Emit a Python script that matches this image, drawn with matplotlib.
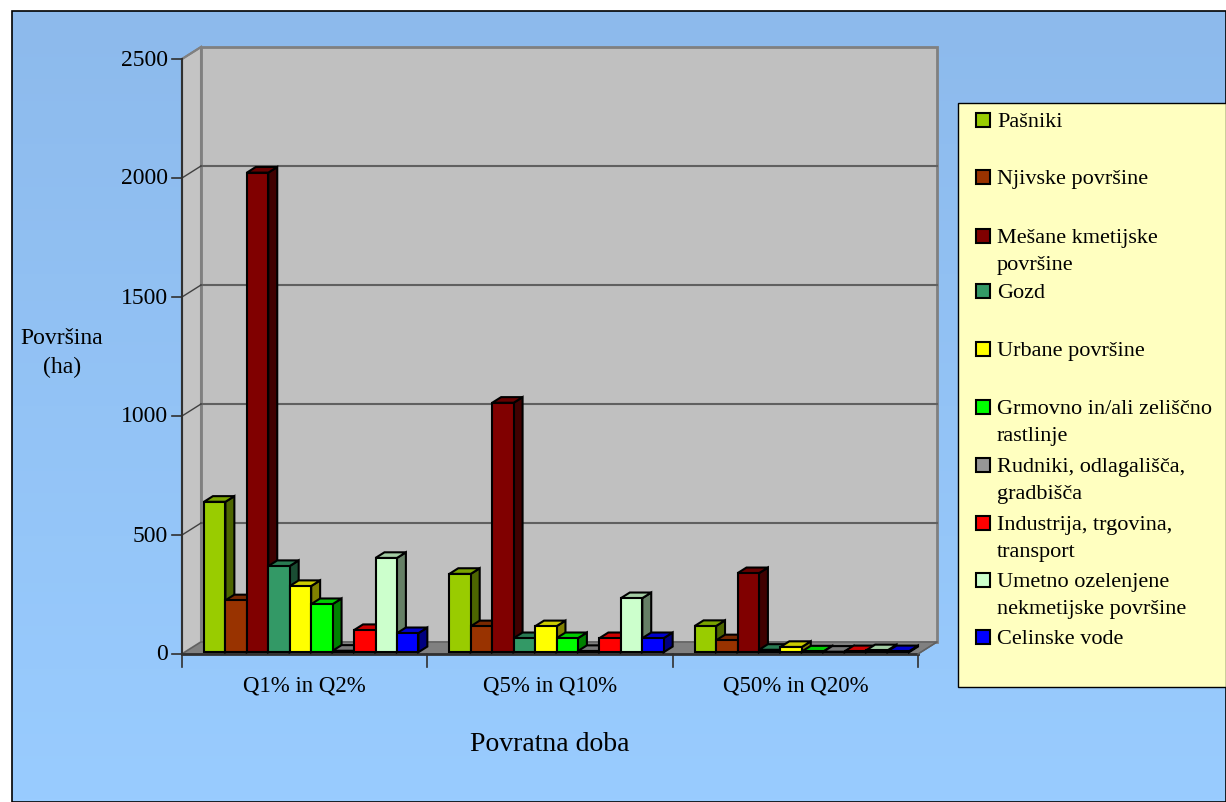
import numpy as np
import matplotlib
matplotlib.use('Agg')
import matplotlib.pyplot as plt
from matplotlib.patches import Polygon, Rectangle
from matplotlib import colors as mcolors

plt.rcParams['font.family'] = ['Liberation Serif', 'DejaVu Serif']

# podatki
kategorije = ['Q1% in Q2%', 'Q5% in Q10%', 'Q50% in Q20%']
razredi = ['Pašniki', 'Njivske površine', 'Mešane kmetijske\npovršine', 'Gozd',
           'Urbane površine', 'Grmovno in/ali zeliščno\nrastlinje',
           'Rudniki, odlagališča,\ngradbišča', 'Industrija, trgovina,\ntransport',
           'Umetno ozelenjene\nnekmetijske površine', 'Celinske vode']
barve = ['#99CC00', '#993300', '#800000', '#339966', '#FFFF00',
         '#00FF00', '#969696', '#FF0000', '#CCFFCC', '#0000FF']
q1_q2 = [632, 218, 2015, 362, 278, 202, 6, 93, 396, 80]
q5_q10 = [329, 109, 1048, 59, 109, 59, 5, 59, 227, 59]
q50_q20 = [110, 50, 332, 10, 22, 3, 2, 4, 8, 4]
serije = [q1_q2, q5_q10, q50_q20]
yticks = [0, 500, 1000, 1500, 2000, 2500]

W, H = 1226, 803
fig = plt.figure(figsize=(W / 100, H / 100), dpi=100)

# ozadje (pikselske koordinate)
bg = fig.add_axes([0, 0, 1, 1])
bg.set_xlim(0, W)
bg.set_ylim(H, 0)
bg.axis('off')
top_c = np.array(mcolors.to_rgb('#8DBAEC'))
bot_c = np.array(mcolors.to_rgb('#99CCFF'))
t = np.linspace(0, 1, 256)[:, None, None]
grad = top_c * (1 - t) + bot_c * t
grad = np.repeat(grad, 2, axis=1)
bg.imshow(grad, extent=(12, W, H, 12), aspect='auto', zorder=0)
bg.add_patch(Rectangle((12, 12), W - 12, H - 12, fill=False, ec='black', lw=1.2, zorder=1))

# legenda
bg.add_patch(Rectangle((958, 104), 268, 584, fc='#FFFFC0', ec='black', lw=1, zorder=2))
leg_y = [121, 178, 237, 292, 350, 408, 466, 524, 581, 638]
for lab, col, yc in zip(razredi, barve, leg_y):
    bg.add_patch(Rectangle((976, yc - 7), 14, 14, fc=col, ec='black', lw=1.5, zorder=3))
    bg.text(997, yc - 8, lab, ha='left', va='top', fontsize=16, linespacing=1.55, zorder=3)

bg.text(62, 353, 'Površina\n(ha)', ha='center', va='center', fontsize=17, linespacing=1.45)
bg.text(550, 745, 'Povratna doba', ha='center', va='center', fontsize=20)

# glavni graf
ax = fig.add_axes([182 / W, (H - 655) / H, (918 - 182) / W, (655 - 60) / H])
ax.set_xlim(0, 3)
ax.set_ylim(0, 2500)
ax.axis('off')
ux = 3 / 736
uy = 2500 / 595
dxw = 19 * ux
dyw = 12 * uy

ax.add_patch(Polygon([(dxw, dyw), (3 + dxw, dyw), (3 + dxw, 2500 + dyw), (dxw, 2500 + dyw)],
                     closed=True, fc='#C0C0C0', ec='#808080', lw=2, zorder=1, clip_on=False))
ax.add_patch(Polygon([(0, 0), (dxw, dyw), (dxw, 2500 + dyw), (0, 2500)],
                     closed=True, fc='#C4C4C4', ec='#808080', lw=1.5, zorder=1, clip_on=False))
ax.add_patch(Polygon([(0, 0), (3, 0), (3 + dxw, dyw), (dxw, dyw)],
                     closed=True, fc='#808080', ec='#606060', lw=1, zorder=1, clip_on=False))

for v in yticks[1:-1]:
    ax.plot([dxw, 3 + dxw], [v + dyw, v + dyw], color='#606060', lw=1.5, zorder=2, clip_on=False)
    ax.plot([0, dxw], [v, v + dyw], color='#404040', lw=1, zorder=2, clip_on=False)
ax.plot([0, dxw], [2500, 2500 + dyw], color='#808080', lw=1.5, zorder=2, clip_on=False)

ax.plot([0, 0], [0, 2500], color='#303030', lw=1.5, zorder=4, clip_on=False)
ax.plot([0, 3], [0, 0], color='#303030', lw=2, zorder=4, clip_on=False)
ax.plot([3, 3 + dxw], [0, dyw], color='#606060', lw=1, zorder=4, clip_on=False)
for v in yticks:
    ax.plot([-10 * ux, 0], [v, v], color='#303030', lw=1.2, clip_on=False)
    ax.text(-14 * ux, v, str(v), ha='right', va='center', fontsize=17)
for i in range(4):
    ax.plot([i, i], [0, -13 * uy], color='#303030', lw=1.2, clip_on=False)
for i, k in enumerate(kategorije):
    ax.text(i + 0.5, -31 * uy, k, ha='center', va='center', fontsize=16.5)

# 3D stolpci
bw = 0.0874
off = 0.078
f0, f1 = 0.15, 0.62
ox0, oy0 = f0 * dxw, f0 * dyw
ox1, oy1 = f1 * dxw, f1 * dyw
z = 5
for c, vals in enumerate(serije):
    for s, v in enumerate(vals):
        col = np.array(mcolors.to_rgb(barve[s]))
        x0 = c + off + s * bw
        x1 = x0 + bw
        side = [(x1 + ox0, oy0), (x1 + ox1, oy1), (x1 + ox1, v + oy1), (x1 + ox0, v + oy0)]
        top = [(x0 + ox0, v + oy0), (x1 + ox0, v + oy0), (x1 + ox1, v + oy1), (x0 + ox1, v + oy1)]
        front = [(x0 + ox0, oy0), (x1 + ox0, oy0), (x1 + ox0, v + oy0), (x0 + ox0, v + oy0)]
        for poly, fc in ((side, col * 0.5), (top, col * 0.8), (front, col)):
            ax.add_patch(Polygon(poly, closed=True, fc=fc, ec='black', lw=1.5,
                                 joinstyle='miter', zorder=z, clip_on=False))
            z += 0.01

fig.savefig('out.png', dpi=100)
